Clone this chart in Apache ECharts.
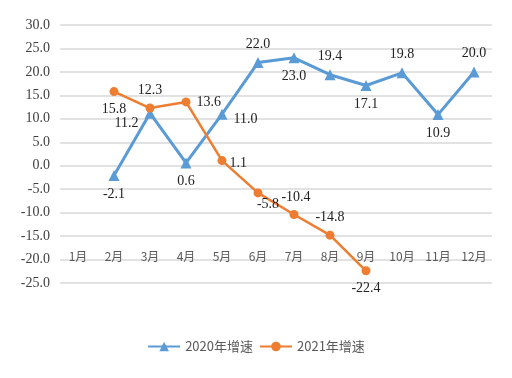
<!DOCTYPE html>
<html>
<head>
<meta charset="utf-8">
<script src="https://cdn.jsdelivr.net/npm/echarts@6/dist/echarts.min.js"></script>
<style>
  html, body { margin: 0; padding: 0; background: #fff; }
  #chart { width: 512px; height: 378px; }
</style>
</head>
<body>
<div id="chart"></div>
<script>
// 数据
const months = ['1月', '2月', '3月', '4月', '5月', '6月', '7月', '8月', '9月', '10月', '11月', '12月']
const growth2020 = [null, -2.1, 11.2, 0.6, 11.0, 22.0, 23.0, 19.4, 17.1, 19.8, 10.9, 20.0]
const growth2021 = [null, 15.8, 12.3, 13.6, 1.1, -5.8, -10.4, -14.8, -22.4, null, null, null]

// 标签位置与偏移
const pos2020 = [null, 'bottom', 'left', 'bottom', 'right', 'top', 'bottom', 'top', 'bottom', 'top', 'bottom', 'top']
const off2020 = [null, [0, 0], [0, 10], [0, 0], [0, 5], [0, 0], [0, 0], [0, 0], [0, 0], [0, 0], [0, 0], [0, 0]]
const pos2021 = [null, 'bottom', 'top', 'right', 'right', 'bottom', 'top', 'top', 'bottom']
const off2021 = [null, [0, 0], [0, 0], [0, 0], [-3, 3], [10, -6], [2, 0], [0, 0], [0, 0]]

const serif = '"Liberation Serif", "Times New Roman", serif'

function withLabels (values, positions, offsets) {
  return values.map((v, i) => {
    if (v === null) return null
    return { value: v, label: { position: positions[i], offset: offsets[i] } }
  })
}

const valueLabel = {
  show: true,
  fontFamily: serif,
  fontSize: 14,
  color: '#222',
  distance: 6,
  formatter: p => p.value.toFixed(1)
}

const chart = echarts.init(document.getElementById('chart'))
chart.setOption({
  animation: false,
  grid: { left: 60, right: 20, top: 25, bottom: 95 },
  legend: {
    bottom: 20,
    left: 'center',
    itemWidth: 32,
    itemHeight: 12,
    itemGap: 6,
    textStyle: { fontFamily: '"Noto Sans CJK SC", sans-serif', fontSize: 13, color: '#595959' },
    data: ['2020年增速', '2021年增速']
  },
  xAxis: {
    type: 'category',
    data: months,
    boundaryGap: true,
    axisLine: { show: false, onZero: false },
    axisTick: { show: false },
    axisLabel: {
      margin: -33,
      fontFamily: '"Noto Sans CJK SC", serif',
      fontSize: 12,
      color: '#595959'
    }
  },
  yAxis: {
    type: 'value',
    min: -25,
    max: 30,
    interval: 5,
    axisLine: { show: false },
    axisTick: { show: false },
    splitLine: { lineStyle: { color: '#d9d9d9', width: 1.5 } },
    axisLabel: {
      margin: 10,
      fontFamily: serif,
      fontSize: 14,
      color: '#404040',
      formatter: v => v.toFixed(1)
    }
  },
  series: [
    {
      name: '2020年增速',
      type: 'line',
      data: withLabels(growth2020, pos2020, off2020),
      symbol: 'triangle',
      symbolSize: 11,
      lineStyle: { color: '#5b9bd5', width: 3 },
      itemStyle: { color: '#5b9bd5' },
      label: valueLabel
    },
    {
      name: '2021年增速',
      type: 'line',
      data: withLabels(growth2021, pos2021, off2021),
      symbol: 'circle',
      symbolSize: 9,
      lineStyle: { color: '#ed7d31', width: 2.5 },
      itemStyle: { color: '#ed7d31' },
      label: valueLabel
    }
  ]
})
</script>
</body>
</html>
